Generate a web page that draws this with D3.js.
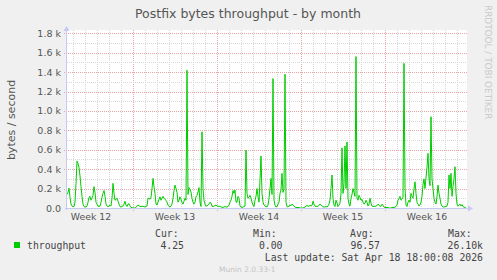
<!DOCTYPE html>
<html><head><meta charset="utf-8">
<script src="https://cdn.jsdelivr.net/npm/d3@7"></script>
<style>body{margin:0;background:#f0f0f0}svg{display:block}</style>
</head><body><svg id="c" width="497" height="280"></svg>
<script>
const title = "Postfix bytes throughput - by month";
const yLabel = "bytes / second";
const seriesName = "throughput";
const startTime = Date.UTC(2026, 2, 17, 12);
const stepHours = 2;
const throughput = [
  140,160,205,110,40,20,15,15,60,250,
  483,460,420,330,220,120,40,15,10,10,
  20,60,110,120,80,100,130,220,160,60,
  40,20,15,20,60,110,150,180,120,40,
  20,15,20,30,20,100,254,150,80,90,
  100,70,40,15,10,15,20,40,70,30,
  15,40,45,20,5,5,0,0,0,5,
  20,30,25,15,15,20,15,15,10,15,
  20,100,100,90,110,200,305,220,150,40,
  30,60,90,115,80,100,120,100,90,80,
  60,30,15,10,20,40,100,180,236,200,
  160,60,80,115,90,60,40,70,100,80,
  1420,140,210,190,165,100,60,40,60,115,
  130,165,210,60,15,785,200,80,40,20,
  20,30,40,60,50,20,15,20,25,30,
  20,15,20,15,10,10,5,10,15,10,
  10,15,30,60,80,120,180,150,185,60,
  60,120,100,20,10,5,10,15,20,597,
  150,100,110,130,100,60,30,15,80,120,
  200,120,60,290,535,150,60,30,20,15,
  10,30,100,200,305,140,1334,82,30,10,
  15,40,60,150,185,357,160,200,1378,60,
  15,10,20,30,25,40,30,20,10,5,
  5,5,5,0,0,0,0,5,10,20,
  25,20,15,30,20,25,70,40,20,15,
  20,15,30,40,30,20,15,10,10,15,
  10,20,40,80,200,340,100,30,15,80,
  50,15,30,50,150,620,150,250,640,200,
  680,100,40,20,100,140,200,160,120,1560,
  100,80,130,110,80,90,60,40,50,80,
  60,20,40,100,50,20,15,20,15,20,
  25,40,30,15,20,40,30,10,5,5,
  5,5,0,0,0,5,5,5,10,15,
  30,80,100,120,80,90,110,1490,200,30,
  15,60,80,60,150,120,100,200,270,150,
  60,40,20,30,60,120,240,300,200,310,
  420,563,300,230,940,300,200,100,60,40,
  120,236,150,100,40,20,10,10,15,15,
  20,60,340,200,357,120,220,300,425,150,
  40,20,30,40,20,35,15,10,5,0
];
const yTicks = [0, 200, 400, 600, 800, 1000, 1200, 1400, 1600, 1800];
const yTickLabels = ["0.0", "0.2 k", "0.4 k", "0.6 k", "0.8 k", "1.0 k", "1.2 k", "1.4 k", "1.6 k", "1.8 k"];
const weekStarts = [Date.UTC(2026,2,16), Date.UTC(2026,2,23), Date.UTC(2026,2,30), Date.UTC(2026,3,6), Date.UTC(2026,3,13)];
const weekLabels = ["Week 12", "Week 13", "Week 14", "Week 15", "Week 16"];
const statLabels = ["Cur:", "Min:", "Avg:", "Max:"];
const statValues = ["4.25", "0.00", "96.57", "26.10k"];
const lastUpdate = "Last update: Sat Apr 18 18:00:08 2026";
const credit = "RRDTOOL / TOBI OETIKER";
const version = "Munin 2.0.33-1";

const svg = d3.select("#c");
const W = 497, H = 280;
const L = 67, R = 467, T = 30, B = 208;
const stepMs = stepHours * 3600e3;
const endTime = startTime + throughput.length * stepMs;
const x = d3.scaleUtc().domain([new Date(startTime), new Date(endTime)]).range([L, R]);
const y = d3.scaleLinear().domain([0, 1800]).range([B, 33.3]);

svg.append("rect").attr("width", W).attr("height", H).attr("fill", "#f0f0f0");
svg.append("rect").attr("x", L).attr("y", T).attr("width", R - L).attr("height", B - T).attr("fill", "#ffffff");

const sans = "DejaVu Sans, sans-serif";
const mono = "DejaVu Sans Mono, monospace";
const majorColor = "#eaa4a4", minorColor = "#d6d6d6";

// vertical grid: days
const days = d3.utcDay.range(new Date(startTime), new Date(endTime));
const g = svg.append("g");
days.forEach(d => {
  const px = Math.round(x(d)) + 0.5;
  const major = d.getUTCDay() === 1;
  g.append("line").attr("x1", px).attr("x2", px).attr("y1", T).attr("y2", major ? B + 3 : B)
    .attr("stroke", major ? majorColor : minorColor).attr("stroke-width", 1)
    .attr("stroke-dasharray", "1,1");
});
// horizontal grid
d3.range(100, 1801, 100).forEach(v => {
  const py = Math.round(y(v)) + 0.5;
  const major = yTicks.includes(v);
  g.append("line").attr("x1", major ? L - 3 : L).attr("x2", R).attr("y1", py).attr("y2", py)
    .attr("stroke", major ? majorColor : minorColor).attr("stroke-width", 1)
    .attr("stroke-dasharray", "1,1");
});

// y tick labels
yTicks.forEach((v, i) => {
  svg.append("text").attr("x", 61).attr("y", y(v) + 3.5).attr("text-anchor", "end")
    .attr("font-family", sans).attr("font-size", 9.5).attr("fill", "#555").text(yTickLabels[i]);
});
// week labels
weekStarts.forEach((w, i) => {
  const mid = new Date(w + 3.5 * 86400e3);
  svg.append("text").attr("x", x(mid)).attr("y", 220).attr("text-anchor", "middle")
    .attr("font-family", sans).attr("font-size", 9.3).attr("fill", "#555").text(weekLabels[i]);
});

// series line
const line = d3.line().x((d, i) => x(new Date(startTime + i * stepMs))).y(d => y(d));
svg.append("path").datum(throughput).attr("d", line).attr("fill", "none")
  .attr("stroke", "#00cc00").attr("stroke-width", 1).attr("stroke-linejoin", "round");

// axes
const axisColor = "#c8c8f4";
svg.append("line").attr("x1", L - 0.5).attr("x2", L - 0.5).attr("y1", 29).attr("y2", B + 2).attr("stroke", axisColor);
svg.append("line").attr("x1", L - 2).attr("x2", R + 2).attr("y1", B + 0.5).attr("y2", B + 0.5).attr("stroke", axisColor);
svg.append("path").attr("d", `M${L-3.5},31 L${L+2.5},31 L${L-0.5},26 Z`).attr("fill", axisColor);
svg.append("path").attr("d", `M${R+1},${B-2.5} L${R+1},${B+3.5} L${R+6},${B+0.5} Z`).attr("fill", axisColor);

// title
svg.append("text").attr("x", 248).attr("y", 17.5).attr("text-anchor", "middle")
  .attr("font-family", sans).attr("font-size", 12.5).attr("fill", "#555").text(title);
// y label
svg.append("text").attr("transform", "translate(15,120) rotate(-90)").attr("text-anchor", "middle")
  .attr("font-family", sans).attr("font-size", 11).attr("fill", "#555").text(yLabel);
// credit
svg.append("text").attr("transform", "translate(485,5) rotate(90)").attr("text-anchor", "start")
  .attr("font-family", sans).attr("font-size", 8.9).attr("fill", "#cacaca").text(credit);

// legend
svg.append("rect").attr("x", 14).attr("y", 242).attr("width", 6).attr("height", 6).attr("fill", "#00cc00");
svg.append("text").attr("x", 27).attr("y", 249).attr("font-family", mono).attr("font-size", 9.8).attr("fill", "#444").text(seriesName);
const statX = [155, 253, 350, 448];
const valEnd = [184, 282.5, 380, 483];
statLabels.forEach((s, i) => {
  svg.append("text").attr("x", statX[i]).attr("y", 237).attr("font-family", mono).attr("font-size", 9.8).attr("fill", "#444").text(s);
  svg.append("text").attr("x", valEnd[i]).attr("y", 249).attr("text-anchor", "end").attr("font-family", mono).attr("font-size", 9.8).attr("fill", "#444").text(statValues[i]);
});
svg.append("text").attr("x", 483).attr("y", 261).attr("text-anchor", "end").attr("font-family", mono).attr("font-size", 9.8).attr("fill", "#444").text(lastUpdate);
svg.append("text").attr("x", 219).attr("y", 272).attr("font-family", sans).attr("font-size", 7.5).attr("fill", "#c4c4c4").text(version);
</script></body></html>
